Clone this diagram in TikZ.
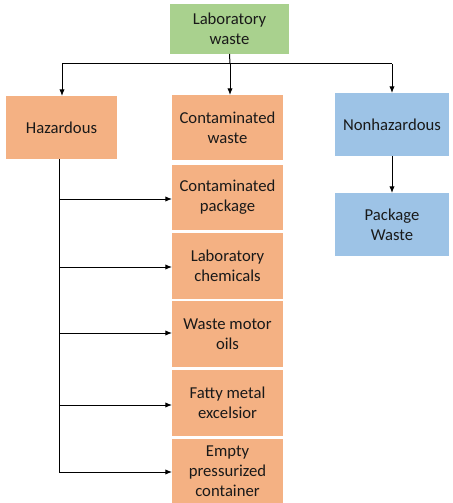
\documentclass[tikz,border=0pt]{standalone}
\usepackage{fontspec}
\setmainfont{Carlito}
\usetikzlibrary{arrows.meta}
\definecolor{gr}{HTML}{A9D18E}
\definecolor{og}{HTML}{F4B183}
\definecolor{bl}{HTML}{9DC3E6}
\begin{document}
\begin{tikzpicture}[x=0.75pt,y=-0.75pt,
  box/.style={inner sep=0pt,outer sep=0pt,align=center,font=\fontsize{12.5}{15}\selectfont,text=black!90},
  arr/.style={-{Latex[length=5pt,width=4pt]},line width=0.75pt},
  ln/.style={line width=0.75pt}]
\useasboundingbox[fill=white] (0,0) rectangle (453,503);
\node[box,fill=gr,minimum width=89.25pt,minimum height=37.5pt] (lab) at (229.5,29) {Laboratory\\waste};
\node[box,fill=og,minimum width=83.25pt,minimum height=47.25pt] (haz) at (61.5,127.5) {Hazardous};
\node[box,fill=og,minimum width=83.25pt,minimum height=48.75pt] (cw) at (227.5,127.5) {Contaminated\\waste};
\node[box,fill=og,minimum width=83.25pt,minimum height=48.75pt] (cp) at (227.5,197) {Contaminated\\package};
\node[box,fill=og,minimum width=83.25pt,minimum height=49.5pt] (lc) at (227.5,266) {Laboratory\\chemicals};
\node[box,fill=og,minimum width=83.25pt,minimum height=49.5pt] (wm) at (227.5,334) {Waste motor\\oils};
\node[box,fill=og,minimum width=83.25pt,minimum height=49.5pt] (fm) at (227.5,403) {Fatty metal\\excelsior};
\node[box,fill=og,minimum width=83.25pt,minimum height=48pt] (ep) at (227.5,471) {Empty\\pressurized\\container};
\node[box,fill=bl,minimum width=85.5pt,minimum height=47.25pt] (nh) at (392,124.5) {Nonhazardous};
\node[box,fill=bl,minimum width=85.5pt,minimum height=47.25pt] (pw) at (392,224.5) {Package\\Waste};
\coordinate (top) at (230,64);
\coordinate (tl) at (62,64);
\coordinate (tr) at (392,64);
\draw[ln] (lab.south |- 0,54) -- (top);
\draw[ln] (tl) -- (tr);
\draw[arr] (tl) -- (haz.north -| tl);
\draw[arr] (top) -- (cw.north -| top);
\draw[arr] (tr) -- (nh.north);
\draw[arr] (nh.south) -- (pw.north);
\coordinate (hb) at (59,159);
\coordinate (he) at (59,472);
\draw[ln] (hb) -- (he);
\draw[arr] (59,199) -- (cp.west |- 0,199);
\draw[arr] (59,267) -- (lc.west |- 0,267);
\draw[arr] (59,333) -- (wm.west |- 0,333);
\draw[arr] (59,405) -- (fm.west |- 0,405);
\draw[arr] (he) -- (ep.west |- he);
\end{tikzpicture}
\end{document}
